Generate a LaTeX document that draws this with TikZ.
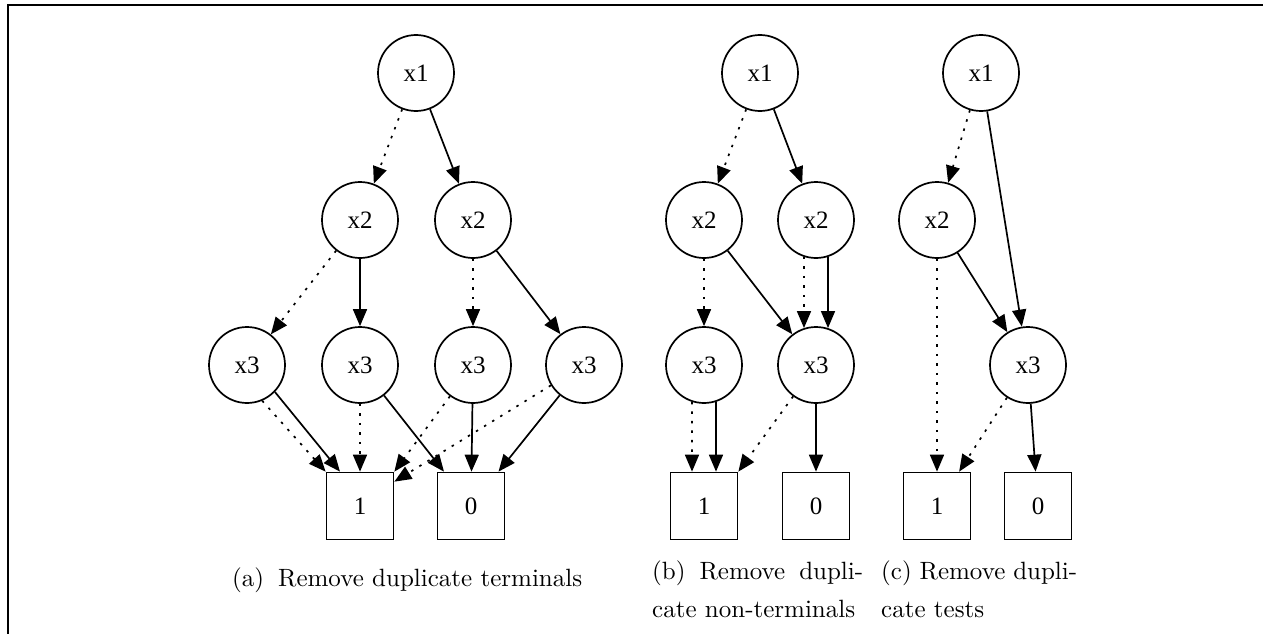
\documentclass[tikz,border=0pt]{standalone}
\usepackage{fontspec}
\newfontfamily\dotfont{Liberation Serif}
\newfontfamily\capfont{lmroman10-regular.otf}
\usetikzlibrary{positioning, arrows.meta, calc}

\begin{document}
\begin{tikzpicture}[
    x=1pt, y=-1pt, on grid,
    var/.style={circle, draw, line width=1.7pt, minimum size=76pt, inner sep=0pt,
        font=\dotfont\fontsize{25}{28}\selectfont},
    term/.style={rectangle, draw, line width=1.7pt, minimum size=67pt, inner sep=0pt,
        font=\dotfont\fontsize{25}{28}\selectfont},
    hi/.style={-{Triangle[length=17pt, width=14pt]}, line width=1.7pt},
    lo/.style={hi, dash pattern=on 2.5pt off 7pt},
    subcap/.style={font=\capfont\fontsize{25}{38}\selectfont, inner sep=0pt, anchor=north west}
]
    \useasboundingbox (0,0) rectangle (1263,634);
    \draw[line width=2pt] (8,634) -- (8,5) -- (1263,5);

    % (a) duplicate terminals removed
    \node[var] (x1a) at (416,73) {x1};
    \node[var] (x2a1) [below left=147pt and 56pt of x1a] {x2};
    \node[var] (x2a2) [below right=147pt and 57pt of x1a] {x2};
    \node[var] (x3a1) [below left=145pt and 113pt of x2a1] {x3};
    \node[var] (x3a2) [below=145pt of x2a1] {x3};
    \node[var] (x3a3) [below=145pt of x2a2] {x3};
    \node[var] (x3a4) [below right=145pt and 111pt of x2a2] {x3};
    \node[term] (t1a) [below=141pt of x3a2] {1};
    \node[term] (t0a) [right=111pt of t1a] {0};

    \draw[lo] (x1a) -- (x2a1);
    \draw[hi] (x1a) -- (x2a2);
    \draw[lo] (x2a1) -- (x3a1);
    \draw[hi] (x2a1) -- (x3a2);
    \draw[lo] (x2a2) -- (x3a3);
    \draw[hi] (x2a2) -- (x3a4);
    \draw[lo] (x3a1.-67) -- (t1a.north west);
    \draw[hi] (x3a1.-44) -- ($(t1a.north)+(-20,0)$);
    \draw[lo] (x3a2) -- (t1a);
    \draw[hi] (x3a2) -- (t0a);
    \draw[lo] (x3a3) -- (t1a.north east);
    \draw[hi] (x3a3) -- (t0a);
    \draw[lo] (x3a4) -- ($(t1a.north east)+(0,10)$);
    \draw[hi] (x3a4) -- (t0a);

    % (b) duplicate non-terminals removed
    \node[var] (x1b) at (760,73) {x1};
    \node[var] (x2b1) [below left=147pt and 56pt of x1b] {x2};
    \node[var] (x2b2) [below right=147pt and 56pt of x1b] {x2};
    \node[var] (x3b1) [below=145pt of x2b1] {x3};
    \node[var] (x3b2) [below=145pt of x2b2] {x3};
    \node[term] (t1b) [below=141pt of x3b1] {1};
    \node[term] (t0b) [below=141pt of x3b2] {0};

    \draw[lo] (x1b) -- (x2b1);
    \draw[hi] (x1b) -- (x2b2);
    \draw[lo] (x2b1) -- (x3b1);
    \draw[hi] (x2b1) -- (x3b2);
    \draw[lo] (x2b2.-108) -- (x3b2.108);
    \draw[hi] (x2b2.-72) -- (x3b2.72);
    \draw[lo] (x3b1.-108) -- ($(t1b.north)+(-12,0)$);
    \draw[hi] (x3b1.-72) -- ($(t1b.north)+(12,0)$);
    \draw[lo] (x3b2) -- (t1b.north east);
    \draw[hi] (x3b2) -- (t0b);

    % (c) duplicate tests removed
    \node[var] (x1c) at (981,73) {x1};
    \node[var] (x2c) [below left=147pt and 44pt of x1c] {x2};
    \node[var] (x3c) [below right=145pt and 91pt of x2c] {x3};
    \node[term] (t1c) [below=286pt of x2c] {1};
    \node[term] (t0c) [below right=141pt and 10pt of x3c] {0};

    \draw[lo] (x1c) -- (x2c);
    \draw[hi] (x1c) -- (x3c);
    \draw[hi] (x2c) -- (x3c);
    \draw[lo] (x2c) -- (t1c);
    \draw[lo] (x3c) -- (t1c);
    \draw[hi] (x3c) -- (t0c);

    % captions
    \node[subcap] (capa) at (232,568) {(a)\hspace{14pt}Remove duplicate terminals};
    \node[subcap, text width=211pt, align=justify] (capb) at (652,561)
        {(b) Remove dupli-\linebreak cate non-terminals};
    \node[subcap, text width=196pt, align=justify] (capc) at (881,561)
        {(c) Remove dupli-\linebreak cate tests};
\end{tikzpicture}
\end{document}
